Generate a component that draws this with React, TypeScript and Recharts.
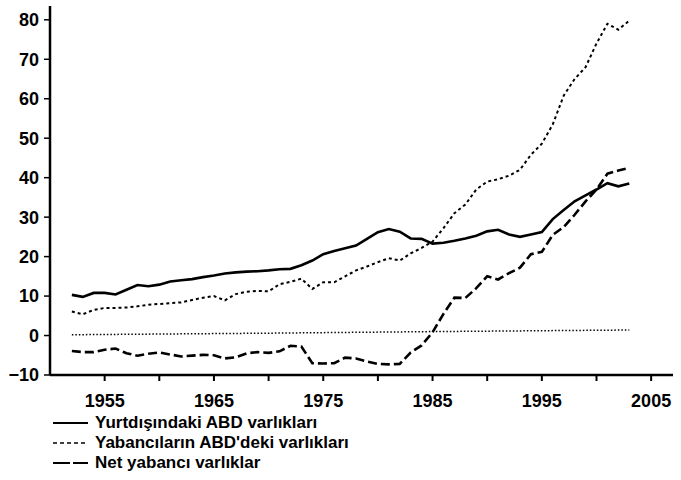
import React from "react";
import { LineChart, Line, XAxis, YAxis, Legend } from "recharts";

const years = [
  1952, 1953, 1954, 1955, 1956, 1957, 1958, 1959, 1960, 1961, 1962, 1963, 1964,
  1965, 1966, 1967, 1968, 1969, 1970, 1971, 1972, 1973, 1974, 1975, 1976, 1977,
  1978, 1979, 1980, 1981, 1982, 1983, 1984, 1985, 1986, 1987, 1988, 1989, 1990,
  1991, 1992, 1993, 1994, 1995, 1996, 1997, 1998, 1999, 2000, 2001, 2002, 2003,
];

// Yurtdışındaki ABD varlıkları
const usAbroad = [
  10.3, 9.8, 10.8, 10.8, 10.4, 11.6, 12.8, 12.5, 12.9, 13.7, 14.0, 14.3, 14.8,
  15.2, 15.7, 16.0, 16.2, 16.3, 16.5, 16.8, 16.9, 17.8, 19.0, 20.6, 21.4, 22.1,
  22.8, 24.5, 26.2, 27.0, 26.3, 24.6, 24.5, 23.3, 23.5, 24.0, 24.6, 25.3, 26.4,
  26.8, 25.6, 25.0, 25.6, 26.2, 29.5, 31.8, 34.0, 35.5, 37.0, 38.6, 37.8, 38.5,
];

// Yabancıların ABD'deki varlıkları
const foreignInUs = [
  6.1, 5.4, 6.5, 7.0, 7.0, 7.1, 7.4, 7.8, 8.0, 8.2, 8.4, 9.0, 9.6,
  10.0, 8.9, 10.5, 11.1, 11.3, 11.2, 13.0, 13.6, 14.4, 11.8, 13.5, 13.5, 15.0,
  16.5, 17.5, 18.6, 19.6, 19.0, 20.8, 22.2, 23.8, 27.2, 31.0, 33.2, 37.0, 39.0,
  39.6, 40.5, 42.0, 45.8, 48.6, 53.5, 60.8, 65.0, 68.0, 74.0, 79.0, 77.5, 79.8,
];

// Net yabancı varlıklar
const netForeign = [
  -3.9, -4.2, -4.2, -3.6, -3.3, -4.5, -5.1, -4.6, -4.3, -4.8, -5.3, -5.1, -4.9,
  -5.0, -5.8, -5.5, -4.5, -4.2, -4.4, -4.0, -2.6, -2.8, -7.0, -7.1, -7.0, -5.6,
  -5.8, -6.6, -7.2, -7.3, -7.2, -4.3, -2.5, 0.8, 5.5, 9.6, 9.5, 12.0, 15.0,
  14.2, 15.8, 17.2, 20.6, 21.2, 25.5, 27.5, 30.6, 34.0, 37.0, 41.0, 41.8, 42.5,
];

// faint dotted line near zero
const refYears = [1952, 1970, 1985, 2003];
const refValues = [0.2, 0.6, 1.0, 1.4];

const xTicks = [1955, 1960, 1965, 1970, 1975, 1980, 1985, 1990, 1995, 2000, 2005];
const yTicks = [-10, 0, 10, 20, 30, 40, 50, 60, 70, 80];

const seriesNames = [
  "Yurtdışındaki ABD varlıkları",
  "Yabancıların ABD'deki varlıkları",
  "Net yabancı varlıklar",
];

const data = years.map((year, i) => ({
  year,
  us: usAbroad[i],
  foreign: foreignInUs[i],
  net: netForeign[i],
}));

const refData = refYears.map((year, i) => ({ year, ref: refValues[i] }));

const font = "'Liberation Sans', Arial, sans-serif";

const legendItems = [
  { name: seriesNames[0], dash: undefined, width: 2 },
  { name: seriesNames[1], dash: "4 3", width: 1.6 },
  { name: seriesNames[2], dash: "17 3", width: 2.2 },
];

const ChartLegend = () => (
  <div
    style={{
      fontFamily: font,
      fontSize: 17,
      fontWeight: 700,
      color: "#000",
      lineHeight: "20px",
    }}
  >
    {legendItems.map((item) => (
      <div key={item.name} style={{ display: "flex", alignItems: "center" }}>
        <svg width={40} height={10} style={{ marginRight: 5 }}>
          <line
            x1={3}
            y1={5}
            x2={38}
            y2={5}
            stroke="#000"
            strokeWidth={item.width}
            strokeDasharray={item.dash}
          />
        </svg>
        <span>{item.name}</span>
      </div>
    ))}
  </div>
);

export default function App() {
  const tick = { fill: "#000", fontSize: 18, fontWeight: 700, fontFamily: font };
  return (
    <div style={{ position: "absolute", left: 0, top: 0, background: "#fff" }}>
      <LineChart
        width={681}
        height={480}
        data={data}
        margin={{ top: 6, right: 8, bottom: 70, left: 0 }}
      >
        <XAxis
          dataKey="year"
          type="number"
          domain={[1950, 2007]}
          ticks={xTicks}
          tickFormatter={(v: number) => ((v - 1955) % 10 === 0 ? String(v) : "")}
          tick={tick}
          height={35}
          tickSize={6}
          tickMargin={13}
          axisLine={{ stroke: "#000", strokeWidth: 2.5 }}
          tickLine={{ stroke: "#000", strokeWidth: 2 }}
          allowDataOverflow
        />
        <YAxis
          type="number"
          domain={[-10, 83.5]}
          ticks={yTicks}
          tickFormatter={(v: number) => (v < 0 ? "\u2212" + Math.abs(v) : String(v))}
          tick={tick}
          width={50}
          tickSize={6}
          tickMargin={5}
          axisLine={{ stroke: "#000", strokeWidth: 2.5 }}
          tickLine={{ stroke: "#000", strokeWidth: 1.5 }}
          allowDataOverflow
        />
        <Legend
          layout="vertical"
          verticalAlign="middle"
          align="center"
          content={<ChartLegend />}
          wrapperStyle={{ position: "absolute", left: 50, top: 413, width: 440 }}
        />
        <Line
          data={refData}
          dataKey="ref"
          stroke="#000"
          strokeWidth={1.5}
          strokeDasharray="1.5 2"
          dot={false}
          legendType="none"
          isAnimationActive={false}
        />
        <Line
          dataKey="foreign"
          name={seriesNames[1]}
          type="linear"
          stroke="#000"
          strokeWidth={2}
          strokeDasharray="3 3"
          dot={false}
          isAnimationActive={false}
        />
        <Line
          dataKey="net"
          name={seriesNames[2]}
          type="linear"
          stroke="#000"
          strokeWidth={2.6}
          strokeDasharray="9 4"
          dot={false}
          isAnimationActive={false}
        />
        <Line
          dataKey="us"
          name={seriesNames[0]}
          type="linear"
          stroke="#000"
          strokeWidth={2.6}
          dot={false}
          isAnimationActive={false}
        />
      </LineChart>
    </div>
  );
}
